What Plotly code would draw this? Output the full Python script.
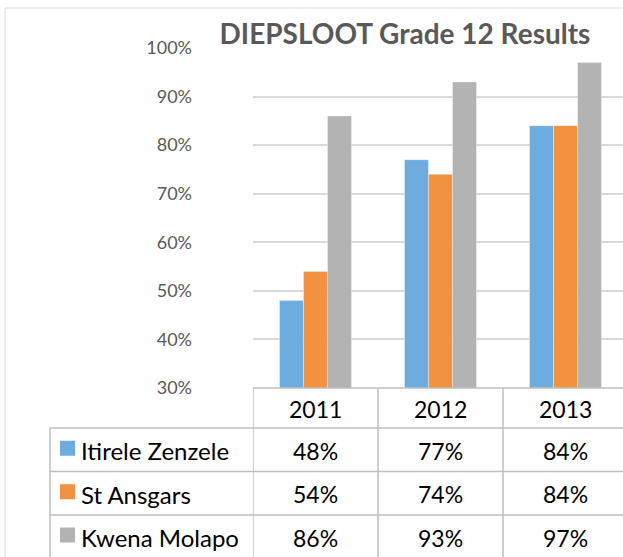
import plotly.graph_objects as go

# ---- data ----
years = ["2011", "2012", "2013"]
series_names = ["Itirele Zenzele", "St Ansgars", "Kwena Molapo"]
itirele_zenzele = [0.48, 0.77, 0.84]
st_ansgars = [0.54, 0.74, 0.84]
kwena_molapo = [0.86, 0.93, 0.97]
series_values = [itirele_zenzele, st_ansgars, kwena_molapo]
y_tick_values = [0.3, 0.4, 0.5, 0.6, 0.7, 0.8, 0.9, 1.0]
title_text = "DIEPSLOOT Grade 12 Results"

# ---- style ----
colors = ["#6DACDE", "#F29140", "#B3B3B3"]
FONT = "Lato"
W, H = 623, 557
L, T, B = 253, 48, 169
plot_w = W - L
plot_h = H - T - B
line_col = "#BFBFBF"


def px_x(px):
    return (px - L) / plot_w


def px_y(py):
    return (H - B - py) / plot_h


fig = go.Figure()
for name, vals, c in zip(series_names, series_values, colors):
    fig.add_trace(go.Bar(
        x=list(range(len(years))), y=vals, name=name,
        marker=dict(color=c, line=dict(color="rgba(255,255,255,0.6)", width=0.6)),
        hoverinfo="x+y",
    ))

shapes = []
# outer chart border
shapes.append(dict(type="rect", xref="paper", yref="paper",
                   x0=px_x(5), x1=px_x(640), y0=px_y(8), y1=px_y(600),
                   line=dict(color="#D9D9D9", width=1), layer="below"))
# table top (category axis line)
row_edges = [388, 428, 471.5, 515, 558]
shapes.append(dict(type="line", xref="paper", yref="paper",
                   x0=0, x1=1, y0=px_y(row_edges[0]), y1=px_y(row_edges[0]),
                   line=dict(color=line_col, width=1.5)))
for py in row_edges[1:4]:
    shapes.append(dict(type="line", xref="paper", yref="paper",
                       x0=px_x(50), x1=1, y0=px_y(py), y1=px_y(py),
                       line=dict(color=line_col, width=1.5)))
shapes.append(dict(type="line", xref="paper", yref="paper",
                   x0=px_x(50), x1=px_x(50), y0=px_y(row_edges[1]), y1=px_y(600),
                   line=dict(color=line_col, width=1.5)))
for i in range(len(years)):
    shapes.append(dict(type="line", xref="x", yref="paper",
                       x0=i - 0.5, x1=i - 0.5, y0=px_y(row_edges[0]), y1=px_y(600),
                       line=dict(color=line_col, width=1.5)))

annotations = []
nfont = dict(family=FONT, size=23, color="#000000")
lfont = dict(family=FONT, size=24, color="#000000")
row_centers = [(row_edges[k] + row_edges[k + 1]) / 2 for k in range(4)]
for i, yr in enumerate(years):
    annotations.append(dict(xref="x", yref="paper", x=i, y=px_y(row_centers[0] + 1),
                            text=yr, showarrow=False, font=nfont,
                            xanchor="center", yanchor="middle"))
for r, (name, vals, c) in enumerate(zip(series_names, series_values, colors)):
    yc = row_centers[r + 1]
    annotations.append(dict(xref="paper", yref="paper", x=px_x(79), y=px_y(yc + 1),
                            text=name, showarrow=False, font=lfont,
                            xanchor="left", yanchor="middle"))
    shapes.append(dict(type="rect", xref="paper", yref="paper",
                       x0=px_x(60), x1=px_x(75), y0=px_y(yc - 9), y1=px_y(yc + 6),
                       fillcolor=c, line=dict(width=0)))
    for i, v in enumerate(vals):
        annotations.append(dict(xref="x", yref="paper", x=i, y=px_y(yc + 1),
                                text=f"{round(v * 100)}%", showarrow=False, font=nfont,
                                xanchor="center", yanchor="middle"))

fig.update_layout(
    width=W, height=H,
    margin=dict(l=L, r=0, t=T, b=B, pad=0),
    paper_bgcolor="white", plot_bgcolor="white",
    barmode="group", bargap=0.424, bargroupgap=0,
    showlegend=False,
    title=dict(text=f"<b>{title_text}</b>", x=405 / W,
               xanchor="center", y=1 - 34 / H, yanchor="middle",
               font=dict(family=FONT, size=28, color="#595959")),
    xaxis=dict(range=[-0.5, 2.46], showticklabels=False, showgrid=False,
               zeroline=False, showline=False, ticks=""),
    yaxis=dict(range=[0.3, 1.0], tickvals=y_tick_values, tickformat=".0%",
               showgrid=True, gridcolor="#D9D9D9", gridwidth=1.5, zeroline=False,
               showline=False, ticks="", ticklabelstandoff=60,
               tickfont=dict(family=FONT, size=18, color="#595959")),
    shapes=shapes, annotations=annotations,
)

fig.write_html("out.html", config={"displayModeBar": False},
               post_script="document.body.style.margin='0';")
